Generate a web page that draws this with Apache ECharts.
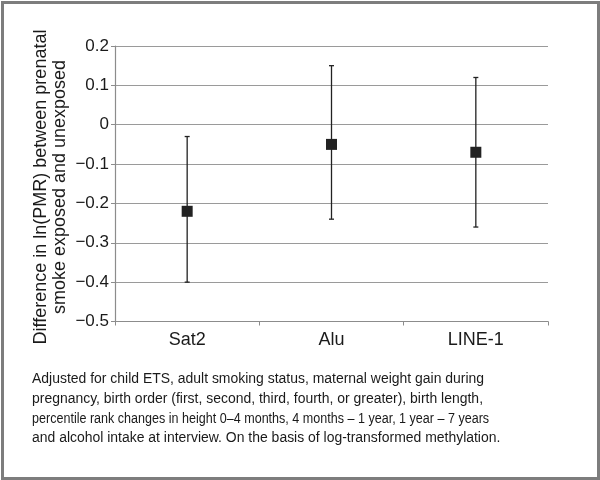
<!DOCTYPE html>
<html><head><meta charset="utf-8">
<script src="https://cdn.jsdelivr.net/npm/echarts@6/dist/echarts.min.js"></script>
<style>html,body{margin:0;padding:0;background:#fff}#c{width:600px;height:480px}</style>
</head><body><div id="c"></div>
<script>
var categories = ['Sat2', 'Alu', 'LINE-1'];
var estimates = [-0.22, -0.05, -0.07];
var lowerCI = [-0.40, -0.24, -0.26];
var upperCI = [-0.03, 0.15, 0.12];
var yTicks = [0.2, 0.1, 0, -0.1, -0.2, -0.3, -0.4, -0.5];
var yTitleLines = ['Difference in ln(PMR) between prenatal', 'smoke exposed and unexposed'];
var captionLines = [
  'Adjusted for child ETS, adult smoking status, maternal weight gain during',
  'pregnancy, birth order (first, second, third, fourth, or greater), birth length,',
  'percentile rank changes in height 0\u20134 months, 4 months \u2013 1 year, 1 year \u2013 7 years',
  'and alcohol intake at interview. On the basis of log-transformed methylation.'
];
var captionScale = [0.9, 0.9, 0.81, 0.9];

var font = 'Liberation Sans, Arial, sans-serif';
var chart = echarts.init(document.getElementById('c'), null, {renderer: 'canvas'});
var errData = categories.map(function (c, i) { return [i, lowerCI[i], upperCI[i]]; });

var graphics = [{
  type: 'rect', left: 0, top: 0, z: 10,
  shape: {x: 1.5, y: 1.5, width: 596, height: 476},
  style: {fill: null, stroke: '#7d7d7d', lineWidth: 3}
}, {
  type: 'text', z: 10,
  x: 51, y: 187, rotation: Math.PI / 2,
  style: {text: yTitleLines.join('\n'), font: '18px ' + font, fill: '#1a1a1a',
          align: 'center', verticalAlign: 'middle', textAlign: 'center', textVerticalAlign: 'middle', lineHeight: 19}
}];
captionLines.forEach(function (t, i) {
  graphics.push({
    type: 'text', z: 10,
    x: 32, y: 379 + i * 19.7, scaleX: captionScale[i],
    style: {text: t, font: '15.5px ' + font, fill: '#1a1a1a', textVerticalAlign: 'middle', verticalAlign: 'middle'}
  });
});

chart.setOption({
  animation: false,
  backgroundColor: '#fff',
  grid: {left: 115, right: 52, top: 46, bottom: 158.5},
  xAxis: {
    type: 'category', data: categories,
    axisLine: {onZero: false, lineStyle: {color: '#8c8c8c', width: 1.2}},
    axisTick: {show: true, length: 4, alignWithLabel: false, lineStyle: {color: '#8c8c8c'}},
    axisLabel: {color: '#1a1a1a', fontSize: 18, fontFamily: font, margin: 10}
  },
  yAxis: {
    type: 'value', min: -0.5, max: 0.2, interval: 0.1,
    axisLine: {show: true, lineStyle: {color: '#8c8c8c', width: 1.2}},
    axisTick: {show: true, length: 4, lineStyle: {color: '#8c8c8c'}},
    splitLine: {lineStyle: {color: '#9a9a9a', width: 1.2}},
    axisLabel: {
      color: '#1a1a1a', fontSize: 17, fontFamily: font, margin: 6,
      formatter: function (v) {
        var r = Math.round(v * 10) / 10;
        var best = yTicks.reduce(function (a, b) { return Math.abs(b - r) < Math.abs(a - r) ? b : a; });
        if (best === 0) return '0';
        return best < 0 ? '\u2212' + Math.abs(best).toFixed(1) : best.toFixed(1);
      }
    }
  },
  graphic: graphics,
  series: [{
    type: 'custom',
    data: errData,
    z: 3,
    renderItem: function (params, api) {
      var x = api.value(0);
      var lo = api.coord([x, api.value(1)]);
      var hi = api.coord([x, api.value(2)]);
      var cap = 2.5;
      var st = {stroke: '#222', lineWidth: 1.3};
      return {
        type: 'group',
        children: [
          {type: 'line', shape: {x1: lo[0], y1: lo[1], x2: hi[0], y2: hi[1]}, style: st},
          {type: 'line', shape: {x1: lo[0] - cap, y1: lo[1], x2: lo[0] + cap, y2: lo[1]}, style: st},
          {type: 'line', shape: {x1: hi[0] - cap, y1: hi[1], x2: hi[0] + cap, y2: hi[1]}, style: st}
        ]
      };
    }
  }, {
    type: 'scatter',
    data: estimates,
    z: 4,
    symbol: 'rect',
    symbolSize: 11,
    itemStyle: {color: '#222', opacity: 1}
  }]
});
</script>
</body></html>
